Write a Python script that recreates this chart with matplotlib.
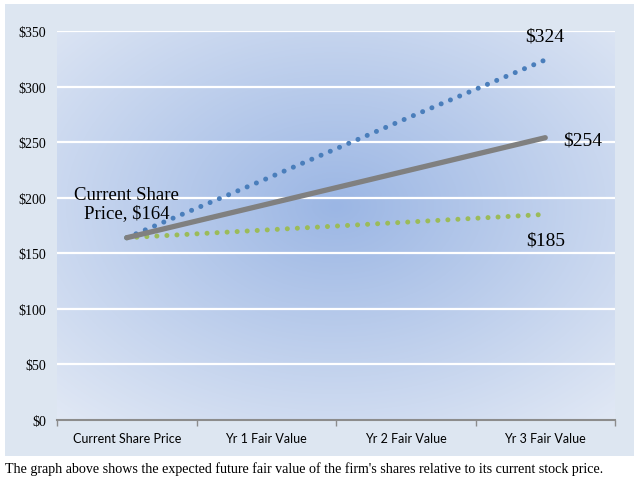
import numpy as np
import matplotlib.pyplot as plt
from matplotlib.patches import Rectangle

categories = ["Current Share Price", "Yr 1 Fair Value", "Yr 2 Fair Value", "Yr 3 Fair Value"]
high_case = [164, 217, 271, 324]
base_case = [164, 194, 224, 254]
low_case = [164, 171, 178, 185]
y_ticks = [0, 50, 100, 150, 200, 250, 300, 350]
caption = "The graph above shows the expected future fair value of the firm's shares relative to its current stock price."

serif = ["Liberation Serif", "DejaVu Serif"]

fig = plt.figure(figsize=(6.4, 4.81), dpi=100)
fig.patches.append(Rectangle((5 / 640, 1 - 457 / 481), 629 / 640, 452 / 481,
                             transform=fig.transFigure, facecolor="#dde6f1",
                             edgecolor="none", zorder=-10))

ax = fig.add_axes([57 / 640, 1 - 421 / 481, 558 / 640, 389 / 481])
ax.set_facecolor("none")

# radial gradient for plot area
nx, ny = 400, 300
gx, gy = np.meshgrid(np.linspace(0, 1, nx), np.linspace(0, 1, ny))
cx, cy = 0.5, 0.45
r = np.sqrt(((gx - cx) / 0.75) ** 2 + ((gy - cy) / 0.75) ** 2)
r = np.clip(r, 0, 1)
c_in = np.array([0x9b, 0xb6, 0xe4]) / 255
c_out = np.array([0xe2, 0xe9, 0xf5]) / 255
img = c_in[None, None, :] * (1 - r[..., None]) + c_out[None, None, :] * r[..., None]
ax.imshow(img, extent=[-0.5, 3.5, 0, 350], aspect="auto", zorder=0, origin="upper")

x = np.arange(len(categories))
ax.set_xlim(-0.5, 3.5)
ax.set_ylim(0, 350)

for v in y_ticks[1:]:
    ax.axhline(v, color="white", lw=1.6, zorder=1)

ax.plot(x, low_case, color="#9bbb59", lw=3.6, linestyle=(0, (0.01, 2.0)),
        dash_capstyle="round", zorder=3)
ax.plot(x, high_case, color="#4a7ebb", lw=3.6, linestyle=(0, (0.01, 2.0)),
        dash_capstyle="round", zorder=3)
ax.plot(x, base_case, color="#808080", lw=3.8, solid_capstyle="round", zorder=4)

ax.text(x[3], high_case[3] + 14, f"${high_case[3]}", ha="center", va="bottom",
        family=serif, fontsize=14)
ax.text(x[3] + 0.13, base_case[3] - 2, f"${base_case[3]}", ha="left", va="center",
        family=serif, fontsize=14)
ax.text(x[3], low_case[3] - 15, f"${low_case[3]}", ha="center", va="top",
        family=serif, fontsize=14)
ax.text(x[0], base_case[0] + 15, f"Current Share\nPrice, ${base_case[0]}",
        ha="center", va="bottom", family=serif, fontsize=13.5, linespacing=1.05)

for s in ["top", "right", "left"]:
    ax.spines[s].set_visible(False)
ax.spines["bottom"].set_color("#8c8c8c")
ax.spines["bottom"].set_linewidth(1.5)

ax.set_yticks(y_ticks)
ax.set_yticklabels([f"${v}" for v in y_ticks], family=serif, fontsize=10)
ax.tick_params(axis="y", length=0, pad=8)
ax.set_xticks(np.arange(-0.5, 4, 1))
ax.set_xticklabels([])
ax.set_xticks(x, minor=True)
ax.set_xticklabels(categories, minor=True, family=["Lato", "DejaVu Sans"], fontsize=9)
ax.tick_params(axis="x", which="major", length=4, width=1, color="#8c8c8c", direction="out")
ax.tick_params(axis="x", which="minor", length=0, pad=9)

fig.text(5 / 640, 1 - 469 / 481, caption, family=serif, fontsize=10.1, va="center", ha="left")

fig.savefig("out.png", dpi=100)
